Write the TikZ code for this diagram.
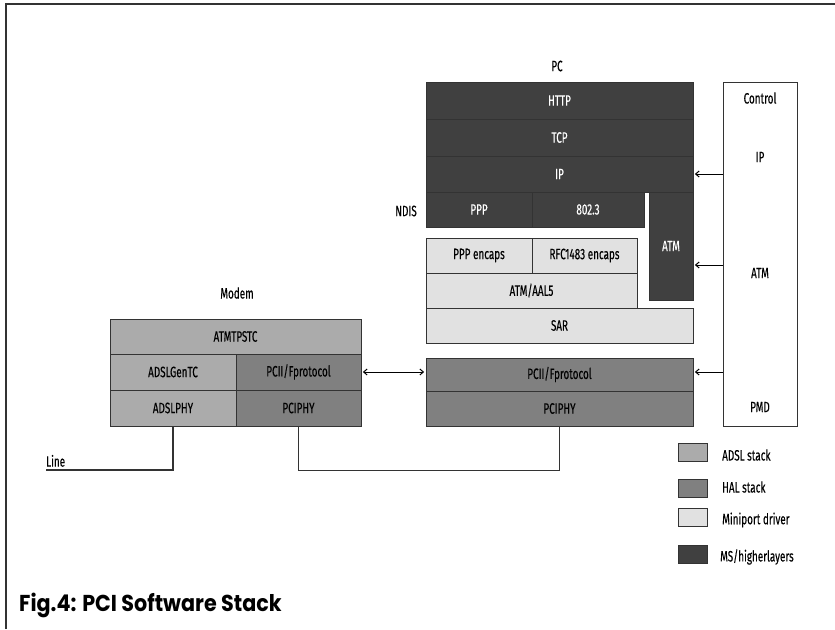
\documentclass[tikz,border=0pt]{standalone}
\usepackage{fontspec}
\setmainfont{Fira Sans}[FakeStretch=0.66, FakeBold=0.3]
\newfontfamily\capfont{Poppins}[FakeStretch=0.9]
\usetikzlibrary{arrows.meta,calc}
\definecolor{msdark}{HTML}{404040}
\definecolor{halgray}{HTML}{808080}
\definecolor{adslgray}{HTML}{ABABAB}
\definecolor{minigray}{HTML}{E1E1E1}
\definecolor{edgecol}{HTML}{333333}
\tikzset{
  lay/.style={draw=edgecol, line width=0.8pt, inner sep=0pt, font=\fontsize{15}{17}\selectfont, text=black},
  msl/.style={lay, fill=msdark, text=white},
  hal/.style={lay, fill=halgray},
  adsl/.style={lay, fill=adslgray},
  mini/.style={lay, fill=minigray},
  lbl/.style={inner sep=0pt, font=\fontsize{15}{17}\selectfont},
  arr/.style={-{Straight Barb[length=3.5pt,width=6pt]}, line width=1pt, shorten >=1.5pt},
  legbox/.style={draw=edgecol, line width=0.8pt, minimum width=29pt, minimum height=18pt, inner sep=0pt}
}
\begin{document}
\begin{tikzpicture}[x=1pt,y=-1pt]
\useasboundingbox (0,0) rectangle (835,629);
% frame
\draw[edgecol, line width=1.3pt] (6,629) -- (6,4) -- (835,4);
% labels
\node[lbl] (pclbl) at (557,66) {PC};
\node[lbl] (ndis) at (406,211) {NDIS};
\node[lbl] (modemlbl) at (237,293) {Modem};
% MS / higher layers
\node[msl, minimum width=267pt, minimum height=37pt] (http) at (559.5,100.5) {HTTP};
\node[msl, minimum width=267pt, minimum height=37pt] (tcp) at (559.5,137.5) {TCP};
\node[msl, minimum width=267pt, minimum height=36pt] (ip) at (559.5,174) {IP};
\node[msl, minimum width=106pt, minimum height=35pt] (ppp) at (479,209.5) {PPP};
\node[msl, minimum width=112pt, minimum height=35pt] (e8023) at (588,209.5) {802.3};
\node[msl, minimum width=44pt, minimum height=108pt] (atmcol) at (671,246) {ATM};
% Miniport driver
\node[mini, minimum width=106pt, minimum height=35pt] (pppenc) at (479,255.5) {PPP encaps};
\node[mini, minimum width=105pt, minimum height=35pt] (rfc) at (584.5,255.5) {RFC1483 encaps};
\node[mini, minimum width=211pt, minimum height=35pt] (aal5) at (531.5,290.5) {ATM/AAL5};
\node[mini, minimum width=267pt, minimum height=35pt] (sar) at (559.5,325.5) {SAR};
% HAL in PC
\node[hal, minimum width=267pt, minimum height=33pt] (pcii) at (559.5,374.5) {PCII/Fprotocol};
\node[hal, minimum width=267pt, minimum height=35pt] (pciphy) at (559.5,408.5) {PCIPHY};
% Modem
\node[adsl, minimum width=251pt, minimum height=35pt] (atmtpstc) at (235.5,336.5) {ATMTPSTC};
\node[adsl, minimum width=126pt, minimum height=36pt] (adslgentc) at (173,372) {ADSLGenTC};
\node[hal, minimum width=125pt, minimum height=36pt] (mpcii) at (298.5,372) {PCII/Fprotocol};
\node[adsl, minimum width=126pt, minimum height=36pt] (adslphy) at (173,408) {ADSLPHY};
\node[hal, minimum width=125pt, minimum height=36pt] (mpciphy) at (298.5,408) {PCIPHY};
% Control
\node[lay, fill=white, minimum width=74pt, minimum height=344pt] (ctrl) at (760,254) {};
\node[lbl] (ctrltxt) at (760,98) {Control};
\node[lbl] (ctrlip) at (760,157) {IP};
\node[lbl] (ctrlatm) at (760,273) {ATM};
\node[lbl] (ctrlpmd) at (760,407) {PMD};
% arrows from control
\draw[arr] (ctrl.west |- ip.east) -- (ip.east);
\coordinate (atmy) at (723,265);
\draw[arr] (atmy) -- (atmy -| atmcol.east);
\coordinate (pciy) at (723,372);
\draw[arr] (pciy) -- (pciy -| pcii.east);
% modem <-> PC
\draw[arr, {Straight Barb[length=3.5pt,width=6pt]}-{Straight Barb[length=3.5pt,width=6pt]}, shorten <=1.5pt] (mpcii.east) -- (mpcii.east -| pcii.west);
% Line
\coordinate (lineend) at (46,470);
\draw[edgecol, line width=1.6pt] (adslphy.south) |- (lineend);
\node[lbl, anchor=south west] (linelbl) at (46,467) {Line};
% PCI connection
\draw[edgecol, line width=0.8pt] (mpciphy.south) -- ++(0,44) -| (pciphy.south);
% legend
\node[legbox, fill=adslgray] (lg1) at (692.5,452) {};
\node[legbox, fill=halgray] (lg2) at (692.5,488) {};
\node[legbox, fill=minigray] (lg3) at (692.5,517.5) {};
\node[legbox, fill=msdark] (lg4) at (692.5,554) {};
\node[lbl, anchor=west] (lt1) at (722,455) {ADSL stack};
\node[lbl, anchor=west] (lt2) at (722,487) {HAL stack};
\node[lbl, anchor=west] (lt3) at (722,520) {Miniport driver};
\node[lbl, anchor=west] (lt4) at (720,557) {MS/higherlayers};
% caption
\node[inner sep=0pt, anchor=west, font=\capfont\bfseries\fontsize{23}{26}\selectfont] (caption) at (19,605) {Fig.4: PCI Software Stack};
\end{tikzpicture}
\end{document}
